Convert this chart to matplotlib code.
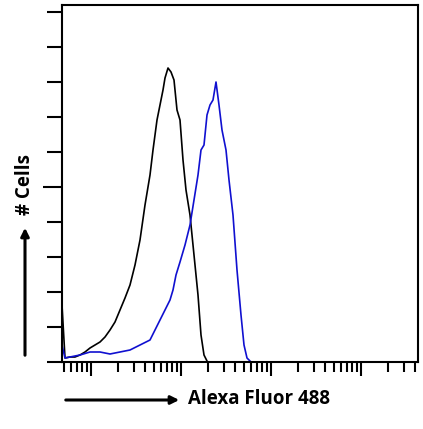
import numpy as np
import matplotlib
matplotlib.use("Agg")
import matplotlib.pyplot as plt
from matplotlib.ticker import FixedLocator, NullFormatter

# pixel-read traces converted: log10 intensity, count (tick units)
black_px = [62,65,70,75,80,85,90,95,100,105,110,115,120,125,130,135,140,145,150,153,157,160,163,165,168,171,174,177,180,183,186,190,194,198,201,204,207]
black_py = [305,358,357,357,355,352,348,345,342,337,330,322,310,298,285,265,240,205,175,150,120,105,90,78,68,72,80,110,120,160,190,215,255,295,335,355,361]
blue_px = [62,65,70,80,90,100,110,120,130,140,150,155,160,165,170,173,176,180,185,190,194,198,201,204,207,210,213,216,219,222,226,229,233,237,241,244,247,250]
blue_py = [345,358,357,355,352,352,354,352,350,345,340,330,320,310,300,290,275,262,245,225,200,175,150,145,115,105,100,82,105,130,150,180,215,270,315,345,358,361]

black_x = [10**(1+(p-91)/90) for p in black_px]
black_y = [(362-p)/35 for p in black_py]
blue_x = [10**(1+(p-91)/90) for p in blue_px]
blue_y = [(362-p)/35 for p in blue_py]

fig = plt.figure(figsize=(4.23, 4.29), dpi=100)
ax = fig.add_axes([62/423, 1-362/429, (418-62)/423, (362-5)/429])
ax.plot(black_x, black_y, color='black', lw=1.2)
ax.plot(blue_x, blue_y, color='#1010d0', lw=1.2)
ax.set_xscale('log')
ax.set_xlim(10**(1-29/90), 10**(1+327/90))
ax.set_ylim(0, (362-5)/35)
for s in ax.spines.values():
    s.set_linewidth(1.5)
ax.xaxis.set_major_locator(FixedLocator([10, 100, 1000, 10000]))
ax.xaxis.set_minor_locator(FixedLocator([m*10**e for e in range(0, 5) for m in range(2, 10)]))
ax.xaxis.set_major_formatter(NullFormatter())
ax.xaxis.set_minor_formatter(NullFormatter())
ax.yaxis.set_major_locator(FixedLocator([5]))
ax.yaxis.set_minor_locator(FixedLocator([0,1,2,3,4,6,7,8,9,10]))
ax.yaxis.set_major_formatter(NullFormatter())
ax.yaxis.set_minor_formatter(NullFormatter())
ax.tick_params(axis='x', which='major', direction='out', length=10, width=1.5)
ax.tick_params(axis='x', which='minor', direction='out', length=7, width=1.5)
ax.tick_params(axis='y', which='major', direction='out', length=14, width=1.5)
ax.tick_params(axis='y', which='minor', direction='out', length=11, width=1.5)

fig.text(188/423, 1-399/429, "Alexa Fluor 488", fontsize=13.5, fontweight='bold',
         family='Open Sans', va='center', ha='left')
fig.text(25/423, 1-185/429, "# Cells", fontsize=13.5, fontweight='bold',
         family='Open Sans', va='center', ha='center', rotation=90)
fig.add_artist(matplotlib.patches.FancyArrowPatch((63/423, 1-400/429), (182/423, 1-400/429),
               transform=fig.transFigure, arrowstyle='-|>', mutation_scale=12, lw=2.2, color='black'))
fig.add_artist(matplotlib.patches.FancyArrowPatch((25/423, 1-358/429), (25/423, 1-225/429),
               transform=fig.transFigure, arrowstyle='-|>', mutation_scale=12, lw=2.2, color='black'))
fig.savefig("out.png", dpi=100)
